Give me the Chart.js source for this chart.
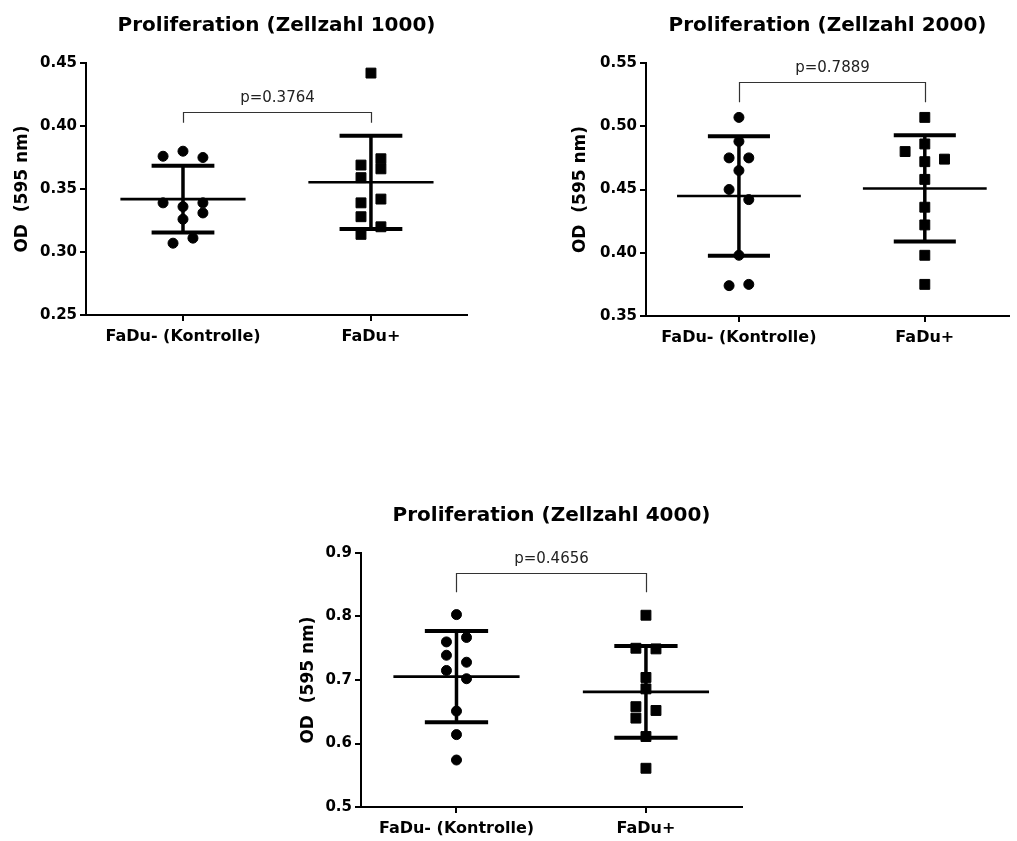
<!DOCTYPE html>
<html>
<head>
<meta charset="utf-8">
<script src="https://cdn.jsdelivr.net/npm/chart.js@4.4.1/dist/chart.umd.min.js"></script>
<style>
  html, body { margin: 0; padding: 0; background: #fff; overflow: hidden; }
  body { width: 1017px; height: 841px; position: relative; }
  .panel { position: absolute; height: 360px; }
</style>
</head>
<body>
<div class="panel" style="left:0;top:0;width:520px"><canvas id="c1000"></canvas></div>
<div class="panel" style="left:560px;top:0;width:457px"><canvas id="c2000"></canvas></div>
<div class="panel" style="left:275px;top:490px;width:520px"><canvas id="c4000"></canvas></div>

<script>
// data
const categories = ["FaDu- (Kontrolle)", "FaDu+"];
const titles = ["Proliferation (Zellzahl 1000)", "Proliferation (Zellzahl 2000)", "Proliferation (Zellzahl 4000)"];
const pValues = ["p=0.3764", "p=0.7889", "p=0.4656"];

const ctrl1000 = [0.380, 0.376, 0.375, 0.339, 0.339, 0.336, 0.331, 0.326, 0.307, 0.311];
const plus1000 = [0.442, 0.374, 0.369, 0.366, 0.359, 0.342, 0.339, 0.328, 0.320, 0.314];
const ctrl2000 = [0.507, 0.488, 0.475, 0.475, 0.465, 0.450, 0.442, 0.398, 0.374, 0.375];
const plus2000 = [0.507, 0.486, 0.480, 0.474, 0.472, 0.458, 0.436, 0.422, 0.398, 0.375];
const ctrl4000 = [0.803, 0.767, 0.760, 0.739, 0.728, 0.715, 0.702, 0.651, 0.614, 0.574];
const plus4000 = [0.802, 0.750, 0.749, 0.704, 0.686, 0.658, 0.652, 0.640, 0.611, 0.561];

// sideways spread of the dots (steps left/right of the group centre)
const ctrl1000Spread = [0, -2, 2, -2, 2, 0, 2, 0, -1, 1];
const plus1000Spread = [0, 1, -1, 1, -1, 1, -1, -1, 1, -1];
const ctrl2000Spread = [0, 0, -1, 1, 0, -1, 1, 0, -1, 1];
const plus2000Spread = [0, 0, -2, 2, 0, 0, 0, 0, 0, 0];
const ctrl4000Spread = [0, 1, -1, -1, 1, -1, 1, 0, 0, 0];
const plus4000Spread = [0, -1, 1, 0, 0, -1, 1, -1, 0, 0];

const yTicks1000 = [0.25, 0.30, 0.35, 0.40, 0.45];
const yTicks2000 = [0.35, 0.40, 0.45, 0.50, 0.55];
const yTicks4000 = [0.5, 0.6, 0.7, 0.8, 0.9];

const FONT = '"DejaVu Sans", "Liberation Sans", Arial, sans-serif';

function meanSd(vals) {
  const m = vals.reduce((a, b) => a + b, 0) / vals.length;
  const sd = Math.sqrt(vals.reduce((a, b) => a + (b - m) ** 2, 0) / (vals.length - 1));
  return [m, sd];
}

function seg(pts, w) {
  return { type: 'line', data: pts, borderColor: '#000', borderWidth: w, pointRadius: 0, fill: false };
}

// mean line + SD whiskers
function barSets(x, vals) {
  const [m, sd] = meanSd(vals);
  return [
    seg([{ x: x - 0.333, y: m }, { x: x + 0.333, y: m }], 2.6),
    seg([{ x: x - 0.167, y: m + sd }, { x: x + 0.167, y: m + sd }], 4),
    seg([{ x: x - 0.167, y: m - sd }, { x: x + 0.167, y: m - sd }], 4),
    seg([{ x: x, y: m - sd }, { x: x, y: m + sd }], 3.5)
  ];
}

function dotSet(x, vals, spread, style) {
  return {
    type: 'scatter',
    data: vals.map((v, i) => ({ x: x + spread[i] * 0.053, y: v })),
    pointStyle: style,
    pointRadius: style === 'rect' ? 7 : 5,
    backgroundColor: '#000',
    borderColor: '#000',
    borderWidth: 1
  };
}

const panelText = {
  id: 'panelText',
  afterDraw(chart, args, o) {
    const { ctx, chartArea: a } = chart;
    const xs = chart.scales.x, ys = chart.scales.y;
    ctx.save();
    ctx.fillStyle = '#000';
    ctx.textAlign = 'center';
    ctx.textBaseline = 'middle';
    ctx.font = 'bold 20px ' + FONT;
    ctx.fillText(o.title, (a.left + a.right) / 2, a.top - 37);

    const x1 = Math.round(xs.getPixelForValue(1)) + 0.5;
    const x2 = Math.round(xs.getPixelForValue(2)) + 0.5;
    const yb = Math.round(ys.getPixelForValue(o.bracket[0])) + 0.5;
    const yd = ys.getPixelForValue(o.bracket[1]);
    ctx.strokeStyle = '#333';
    ctx.lineWidth = 1.2;
    ctx.beginPath();
    ctx.moveTo(x1, yd); ctx.lineTo(x1, yb); ctx.lineTo(x2, yb); ctx.lineTo(x2, yd);
    ctx.stroke();

    ctx.fillStyle = '#222';
    ctx.font = '15px ' + FONT;
    ctx.fillText(o.p, (x1 + x2) / 2, yb - 14);
    ctx.restore();
  }
};

function panel(id, o) {
  const axisLine = { color: '#000', width: 2 };
  const tickGrid = { drawOnChartArea: false, drawTicks: true, tickLength: 6, color: '#000', tickColor: '#000', lineWidth: 2 };
  new Chart(document.getElementById(id), {
    type: 'scatter',
    data: {
      datasets: [
        ...barSets(1, o.ctrl), ...barSets(2, o.plus),
        dotSet(1, o.ctrl, o.ctrlSpread, 'circle'),
        dotSet(2, o.plus, o.plusSpread, 'rect')
      ]
    },
    options: {
      responsive: true,
      maintainAspectRatio: false,
      animation: false,
      events: [],
      layout: { padding: { top: 63, right: o.padRight, left: 0, bottom: 0 } },
      plugins: {
        legend: { display: false },
        tooltip: { enabled: false },
        panelText: { title: o.title, p: o.p, bracket: o.bracket }
      },
      scales: {
        x: {
          type: 'linear',
          min: o.xRange[0],
          max: o.xRange[1],
          afterBuildTicks: s => { s.ticks = [{ value: 1 }, { value: 2 }]; },
          afterFit: s => { s.height = o.xAxisH; },
          ticks: {
            callback: v => categories[v - 1],
            color: '#000',
            font: { family: FONT, size: 16, weight: 'bold' },
            padding: 6,
            maxRotation: 0,
            autoSkip: false
          },
          grid: tickGrid,
          border: axisLine
        },
        y: {
          min: o.yTicks[0],
          max: o.yTicks[o.yTicks.length - 1],
          afterBuildTicks: s => { s.ticks = o.yTicks.map(v => ({ value: v })); },
          afterFit: s => { s.width = 86; },
          ticks: {
            callback: v => v.toFixed(o.dec),
            color: '#000',
            font: { family: FONT, size: 15, weight: 'bold' },
            padding: 3
          },
          title: {
            display: true,
            text: 'OD  (595 nm)',
            color: '#000',
            font: { family: FONT, size: 17, weight: 'bold' },
            padding: { top: o.titlePad, bottom: 0 }
          },
          grid: tickGrid,
          border: axisLine
        }
      }
    },
    plugins: [panelText]
  });
}

panel('c1000', {
  ctrl: ctrl1000, plus: plus1000, ctrlSpread: ctrl1000Spread, plusSpread: plus1000Spread,
  yTicks: yTicks1000, dec: 2, title: titles[0], p: pValues[0], bracket: [0.411, 0.4025],
  xRange: [0.484, 2.511], padRight: 53, xAxisH: 45, titlePad: 12
});
panel('c2000', {
  ctrl: ctrl2000, plus: plus2000, ctrlSpread: ctrl2000Spread, plusSpread: plus2000Spread,
  yTicks: yTicks2000, dec: 2, title: titles[1], p: pValues[1], bracket: [0.535, 0.519],
  xRange: [0.5, 2.453], padRight: 0, xAxisH: 44, titlePad: 10
});
panel('c4000', {
  ctrl: ctrl4000, plus: plus4000, ctrlSpread: ctrl4000Spread, plusSpread: plus4000Spread,
  yTicks: yTicks4000, dec: 1, title: titles[2], p: pValues[2], bracket: [0.8685, 0.838],
  xRange: [0.496, 2.507], padRight: 53, xAxisH: 43, titlePad: 23
});
</script>
</body>
</html>
